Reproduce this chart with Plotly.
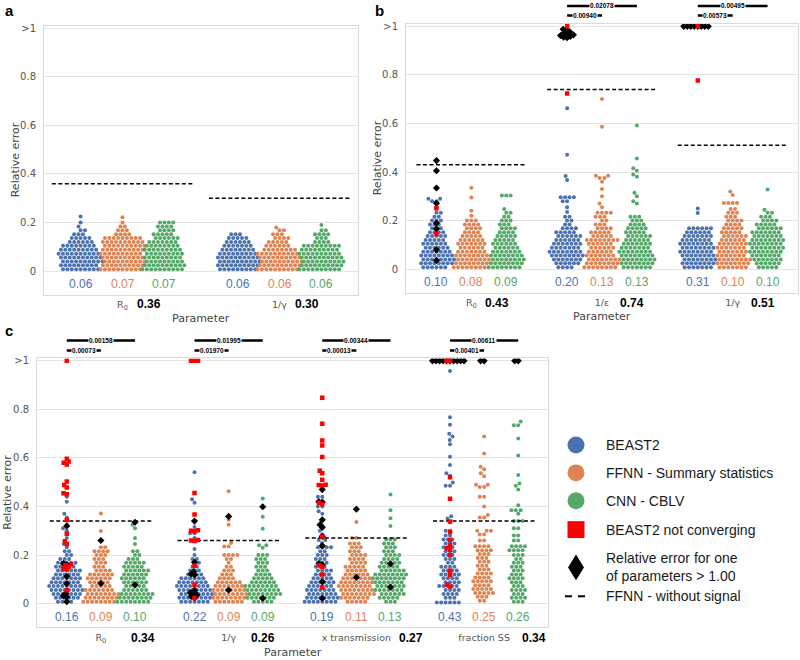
import math

import plotly.graph_objects as go

BLUE, ORANGE, GREEN, RED = "#4C72B0", "#DD8452", "#55A868", "#FF0000"
HUES = [BLUE, ORANGE, GREEN]
HUE_OFF = [-0.267, 0.0, 0.267]
Y_RANGE = [-0.097, 1.01]
W, H = 800, 660

# ---------------- data: (value, number of dots in that row) ----------------
# panel a
a_params = ["R<sub>0</sub>", "1/γ"]
a_nosignal = [0.36, 0.30]
a_median = [[0.06, 0.06], [0.07, 0.06], [0.07, 0.06]]
a_beast_r0 = [(0.008, 9), (0.024, 9), (0.04, 10), (0.056, 10), (0.072, 10), (0.088, 9), (0.104, 8),
              (0.12, 6), (0.136, 5), (0.152, 3), (0.168, 2), (0.184, 1), (0.2, 1), (0.225, 1)]
a_ffnn_r0 = [(0.008, 10), (0.024, 10), (0.04, 10), (0.056, 10), (0.072, 10), (0.088, 10), (0.104, 10),
             (0.12, 10), (0.136, 9), (0.152, 4), (0.168, 3), (0.184, 2), (0.2, 1), (0.222, 1)]
a_cnn_r0 = [(0.008, 10), (0.024, 10), (0.04, 9), (0.056, 9), (0.072, 9), (0.088, 9), (0.104, 8),
            (0.12, 7), (0.136, 6), (0.152, 5), (0.168, 4), (0.184, 4), (0.2, 4)]
a_beast_g = [(0.008, 9), (0.024, 10), (0.04, 10), (0.056, 10), (0.072, 9), (0.088, 8), (0.104, 7),
             (0.12, 6), (0.136, 5), (0.152, 3)]
a_ffnn_g = [(0.008, 10), (0.024, 10), (0.04, 10), (0.056, 10), (0.072, 10), (0.088, 8), (0.104, 6),
            (0.12, 5), (0.136, 4), (0.152, 3), (0.168, 2), (0.18, 1)]
a_cnn_g = [(0.008, 10), (0.024, 10), (0.04, 10), (0.056, 10), (0.072, 10), (0.088, 9), (0.104, 9),
           (0.12, 4), (0.136, 3), (0.152, 4), (0.168, 2), (0.19, 1)]

# panel b
b_params = ["R<sub>0</sub>", "1/ε", "1/γ"]
b_nosignal = [0.43, 0.74, 0.51]
b_median = [[0.10, 0.20, 0.31], [0.08, 0.13, 0.10], [0.09, 0.13, 0.10]]
b_sig_long = ["", "0.02078", "0.00495"]
b_sig_short = ["", "0.00940", "0.00573"]
b_beast_r0 = [(0.008, 6), (0.024, 8), (0.04, 8), (0.056, 8), (0.072, 7), (0.088, 6), (0.104, 6),
              (0.12, 5), (0.136, 5), (0.152, 4), (0.168, 3), (0.184, 3), (0.2, 3), (0.216, 2),
              (0.232, 2), (0.25, 1), (0.28, 2), (0.29, 2)]
b_ffnn_r0 = [(0.008, 8), (0.024, 8), (0.04, 8), (0.056, 8), (0.072, 7), (0.088, 6), (0.104, 7),
             (0.12, 6), (0.136, 5), (0.152, 4), (0.168, 4), (0.184, 4), (0.2, 3), (0.22, 1),
             (0.24, 1), (0.295, 1), (0.335, 1)]
b_cnn_r0 = [(0.008, 8), (0.024, 8), (0.04, 8), (0.056, 8), (0.072, 7), (0.088, 6), (0.104, 6),
            (0.12, 5), (0.136, 5), (0.152, 4), (0.168, 4), (0.184, 3), (0.2, 3), (0.216, 2),
            (0.232, 2), (0.248, 1), (0.303, 3)]
b_beast_e = [(0.008, 4), (0.024, 6), (0.04, 7), (0.056, 8), (0.072, 8), (0.088, 7), (0.104, 7),
             (0.12, 6), (0.136, 6), (0.152, 5), (0.168, 4), (0.184, 2), (0.2, 2), (0.216, 2),
             (0.235, 1), (0.255, 1), (0.28, 2), (0.296, 4), (0.367, 1), (0.384, 1), (0.471, 1),
             (0.663, 1)]
b_ffnn_e = [(0.008, 8), (0.024, 8), (0.04, 8), (0.056, 7), (0.072, 6), (0.088, 6), (0.104, 6),
            (0.12, 8), (0.136, 5), (0.152, 5), (0.168, 4), (0.184, 3), (0.2, 2), (0.216, 3),
            (0.232, 4), (0.255, 1), (0.27, 1), (0.3, 1), (0.33, 1), (0.36, 1), (0.375, 2),
            (0.385, 2), (0.586, 1), (0.701, 1)]
b_cnn_e = [(0.008, 7), (0.024, 8), (0.04, 8), (0.056, 8), (0.072, 8), (0.088, 7), (0.104, 7),
           (0.12, 6), (0.136, 6), (0.152, 5), (0.168, 5), (0.184, 4), (0.2, 3), (0.216, 3),
           (0.27, 1), (0.28, 1), (0.3, 1), (0.315, 1), (0.38, 1), (0.39, 1), (0.405, 1),
           (0.415, 1), (0.456, 1), (0.592, 1)]
b_beast_g = [(0.008, 7), (0.024, 8), (0.04, 8), (0.056, 8), (0.072, 8), (0.088, 8), (0.104, 8),
             (0.12, 7), (0.136, 7), (0.152, 6), (0.168, 6), (0.231, 1), (0.25, 1)]
b_ffnn_g = [(0.008, 7), (0.024, 8), (0.04, 8), (0.056, 7), (0.072, 7), (0.088, 7), (0.104, 7),
            (0.12, 6), (0.136, 6), (0.152, 5), (0.168, 5), (0.184, 4), (0.2, 4), (0.216, 3),
            (0.232, 3), (0.248, 2), (0.272, 4), (0.305, 1), (0.32, 1)]
b_cnn_g = [(0.008, 5), (0.024, 6), (0.04, 7), (0.056, 7), (0.072, 8), (0.088, 8), (0.104, 8),
           (0.12, 8), (0.136, 7), (0.152, 7), (0.168, 6), (0.184, 5), (0.2, 4), (0.216, 3),
           (0.232, 2), (0.245, 1), (0.328, 1)]
b_red = [[0.251, 0.145], [1.0, 0.723], [1.0, 0.777]]
b_black_beast = [[0.447, 0.405, 0.334, 0.271, 0.19, 0.166, 0.079, 0.036],
                 [0.988, 0.985, 0.978, 0.972, 0.968, 0.965, 0.962, 0.958, 0.955, 0.953],
                 [1.0, 1.0, 1.0, 1.0, 1.0, 1.0, 1.0, 1.0]]

# panel c
c_params = ["R<sub>0</sub>", "1/γ", "x transmission", "fraction SS"]
c_nosignal = [0.34, 0.26, 0.27, 0.34]
c_median = [[0.16, 0.22, 0.19, 0.43], [0.09, 0.09, 0.11, 0.25], [0.10, 0.09, 0.13, 0.26]]
c_sig_long = ["0.00158", "0.01995", "0.00344", "0.00611"]
c_sig_short = ["0.00073", "0.01970", "0.00013", "0.00401"]
c_beast_r0 = [(0.008, 4), (0.024, 6), (0.04, 7), (0.056, 8), (0.072, 8), (0.088, 7), (0.104, 7),
              (0.12, 6), (0.136, 6), (0.152, 5), (0.168, 5), (0.184, 3), (0.2, 2), (0.216, 2),
              (0.232, 1), (0.245, 1), (0.27, 1), (0.3, 1), (0.31, 1), (0.355, 1), (0.37, 1),
              (0.42, 1), (0.44, 1)]
c_ffnn_r0 = [(0.008, 8), (0.024, 8), (0.04, 8), (0.056, 7), (0.072, 5), (0.088, 5), (0.104, 6),
             (0.12, 6), (0.136, 4), (0.152, 3), (0.168, 3), (0.184, 3), (0.2, 3), (0.216, 4),
             (0.232, 2), (0.299, 1), (0.371, 1)]
c_cnn_r0 = [(0.008, 8), (0.024, 8), (0.04, 8), (0.056, 6), (0.072, 5), (0.088, 6), (0.104, 6),
            (0.12, 6), (0.136, 6), (0.152, 5), (0.168, 5), (0.184, 3), (0.2, 2), (0.216, 2),
            (0.245, 1), (0.27, 1), (0.31, 1), (0.325, 1)]
c_beast_g = [(0.008, 7), (0.024, 8), (0.04, 8), (0.056, 8), (0.072, 8), (0.088, 7), (0.104, 6),
             (0.12, 4), (0.136, 3), (0.152, 2), (0.168, 2), (0.184, 2), (0.2, 1), (0.225, 1),
             (0.27, 1), (0.29, 2), (0.315, 1), (0.415, 1), (0.43, 1), (0.541, 1)]
c_ffnn_g = [(0.008, 7), (0.024, 8), (0.04, 8), (0.056, 8), (0.072, 7), (0.088, 6), (0.104, 4),
            (0.12, 3), (0.136, 3), (0.152, 2), (0.168, 1), (0.184, 2), (0.2, 4), (0.235, 2),
            (0.25, 1), (0.325, 1), (0.345, 1), (0.463, 1)]
c_cnn_g = [(0.008, 5), (0.024, 7), (0.04, 8), (0.056, 8), (0.072, 8), (0.088, 6), (0.104, 5),
           (0.12, 4), (0.136, 3), (0.152, 3), (0.168, 3), (0.184, 3), (0.2, 3), (0.23, 1),
           (0.24, 2), (0.308, 1), (0.358, 1), (0.433, 1)]
c_beast_x = [(0.008, 8), (0.024, 8), (0.04, 7), (0.056, 7), (0.072, 6), (0.088, 6), (0.104, 5),
             (0.12, 4), (0.136, 4), (0.152, 3), (0.168, 3), (0.184, 3), (0.2, 3), (0.216, 2),
             (0.232, 4), (0.25, 1), (0.262, 2), (0.285, 1), (0.3, 1), (0.32, 1), (0.37, 1),
             (0.38, 1), (0.4, 2), (0.44, 2), (0.465, 1)]
c_ffnn_x = [(0.008, 5), (0.024, 7), (0.04, 8), (0.056, 8), (0.072, 8), (0.088, 8), (0.104, 7),
            (0.12, 6), (0.136, 5), (0.152, 5), (0.168, 4), (0.184, 4), (0.2, 4), (0.216, 3),
            (0.232, 3), (0.248, 3), (0.27, 2), (0.336, 1)]
c_cnn_x = [(0.008, 3), (0.024, 5), (0.04, 6), (0.056, 7), (0.072, 7), (0.088, 7), (0.104, 8),
           (0.12, 8), (0.136, 6), (0.152, 5), (0.168, 5), (0.184, 4), (0.2, 4), (0.216, 3),
           (0.232, 3), (0.248, 3), (0.264, 3), (0.32, 1), (0.352, 1), (0.385, 1), (0.449, 1)]
c_beast_s = [(0.005, 6), (0.024, 3), (0.04, 4), (0.056, 4), (0.072, 5), (0.088, 4), (0.104, 4),
             (0.12, 5), (0.136, 4), (0.152, 4), (0.168, 2), (0.184, 3), (0.2, 3), (0.216, 3),
             (0.232, 3), (0.248, 3), (0.264, 3), (0.28, 2), (0.3, 2), (0.335, 1), (0.35, 1),
             (0.36, 1), (0.43, 1), (0.485, 2), (0.499, 1), (0.527, 1), (0.537, 1), (0.571, 1),
             (0.605, 1), (0.656, 1), (0.674, 1), (0.688, 1), (0.7, 1), (0.737, 1), (0.768, 1),
             (0.958, 1)]
c_ffnn_s = [(0.012, 2), (0.028, 3), (0.044, 5), (0.06, 5), (0.076, 4), (0.092, 5), (0.108, 4),
            (0.124, 4), (0.14, 3), (0.156, 3), (0.172, 3), (0.188, 3), (0.204, 3), (0.22, 4),
            (0.236, 4), (0.26, 2), (0.285, 2), (0.3, 3), (0.355, 2), (0.365, 1), (0.4, 1),
            (0.44, 2), (0.48, 2), (0.49, 2), (0.525, 1), (0.537, 1), (0.553, 1), (0.564, 1),
            (0.618, 1), (0.688, 1)]
c_cnn_s = [(0.008, 3), (0.024, 4), (0.04, 3), (0.056, 4), (0.072, 3), (0.088, 3), (0.104, 4),
           (0.12, 3), (0.136, 3), (0.152, 3), (0.168, 3), (0.184, 2), (0.2, 3), (0.22, 4),
           (0.236, 4), (0.26, 2), (0.28, 2), (0.31, 2), (0.34, 3), (0.37, 1), (0.385, 3),
           (0.405, 1), (0.47, 1), (0.485, 1), (0.495, 1), (0.53, 1), (0.61, 1), (0.68, 1),
           (0.735, 2), (0.75, 1)]
c_red = [[1.0, 0.597, 0.585, 0.58, 0.573, 0.503, 0.488, 0.478, 0.455, 0.45, 0.344, 0.288, 0.257,
          0.245, 0.162, 0.158, 0.152, 0.145, 0.14, 0.055],
         [1.0, 1.0, 1.0, 0.456, 0.367, 0.302, 0.3, 0.298, 0.262, 0.26, 0.258, 0.156, 0.078,
          0.023],
         [0.848, 0.741, 0.672, 0.651, 0.604, 0.547, 0.537, 0.51, 0.49, 0.488, 0.486, 0.415, 0.41,
          0.276, 0.158, 0.152, 0.12, 0.066],
         [1.0, 1.0, 0.52, 0.432, 0.338, 0.295, 0.262, 0.24, 0.228, 0.222, 0.2, 0.135, 0.118, 0.078,
          0.07]]
c_black_beast = [[0.32, 0.165, 0.16, 0.112, 0.082, 0.042, 0.032, 0.028, 0.008],
                 [0.34, 0.17, 0.132, 0.122, 0.118, 0.055, 0.045, 0.04, 0.035, 0.03, 0.025],
                 [0.47, 0.42, 0.418, 0.345, 0.325, 0.314, 0.277, 0.238, 0.165, 0.16, 0.09, 0.022],
                 [1.0, 1.0, 1.0, 1.0, 1.0, 1.0, 1.0, 1.0, 1.0, 1.0]]
c_black_ffnn = [[0.26, 0.083], [0.359, 0.056], [0.389, 0.108], [1.0, 1.0]]
c_black_cnn = [[0.335, 0.077], [0.399, 0.022], [0.164, 0.068], [1.0, 1.0]]

# overall errors of the no-signal FFNN shown under each parameter
a_nosignal_txt = ["0.36", "0.30"]
b_nosignal_txt = ["0.43", "0.74", "0.51"]
c_nosignal_txt = ["0.34", "0.26", "0.27", "0.34"]

LEGEND_LABELS = ["BEAST2", "FFNN - Summary statistics", "CNN - CBLV", "BEAST2 not converging",
                 "Relative error for one<br>of parameters > 1.00", "FFNN - without signal"]

PANELS = [
    dict(letter="a", letter_pos=(3, 8), frame=(44, 23, 358, 293), params=a_params,
         swarms=[[a_beast_r0, a_beast_g], [a_ffnn_r0, a_ffnn_g], [a_cnn_r0, a_cnn_g]],
         red=[[], []], black=[[[], []], [[], []], [[], []]],
         median=a_median, nosignal=a_nosignal, nosignal_txt=a_nosignal_txt, half=0.45,
         num_shift=[26, 27], label_y=302, title_y=317, sig=None),
    dict(letter="b", letter_pos=(373, 8), frame=(406, 21, 798, 291), params=b_params,
         swarms=[[b_beast_r0, b_beast_e, b_beast_g], [b_ffnn_r0, b_ffnn_e, b_ffnn_g],
                 [b_cnn_r0, b_cnn_e, b_cnn_g]],
         red=b_red, black=[b_black_beast, [[], [], []], [[], [], []]],
         median=b_median, nosignal=b_nosignal, nosignal_txt=b_nosignal_txt, half=0.42,
         num_shift=[26, 30, 30], label_y=301, title_y=315,
         sig=(b_sig_long, b_sig_short, 3, 12.5)),
    dict(letter="c", letter_pos=(3, 329), frame=(37, 357, 548, 627), params=c_params,
         swarms=[[c_beast_r0, c_beast_g, c_beast_x, c_beast_s],
                 [c_ffnn_r0, c_ffnn_g, c_ffnn_x, c_ffnn_s],
                 [c_cnn_r0, c_cnn_g, c_cnn_x, c_cnn_s]],
         red=c_red, black=[c_black_beast, c_black_ffnn, c_black_cnn],
         median=c_median, nosignal=c_nosignal, nosignal_txt=c_nosignal_txt, half=0.40,
         num_shift=[42, 34, 55, 50], label_y=638, title_y=652,
         sig=(c_sig_long, c_sig_short, 339, 349)),
]

DOT_D = 4.4
MARK_D = 3.5
TXT = "Liberation Sans, Arial, sans-serif"
AX = "DejaVu Sans, sans-serif"


def expand(pairs):
    out = []
    for v, n in pairs:
        out += [v] * n
    return out


def beeswarm(ys, d):
    """x offsets (px) for points at pixel heights ys, closest to centre without overlap"""
    order = sorted(range(len(ys)), key=lambda i: ys[i])
    placed = []
    out = [0.0] * len(ys)
    for i in order:
        y = ys[i]
        near = [(px, py) for px, py in placed if abs(py - y) < d]
        cands = [0.0]
        for px, py in near:
            dx = math.sqrt(d * d - (py - y) ** 2)
            cands += [px - dx, px + dx]
        cands.sort(key=abs)
        for c in cands:
            if all((c - px) ** 2 + (y - py) ** 2 >= d * d - 1e-6 for px, py in near):
                break
        placed.append((c, y))
        out[i] = c
    return out


def fx(v):
    return v / W


def fy(v):
    return 1 - v / H


def note(**kw):
    kw.setdefault("showarrow", False)
    kw.setdefault("xanchor", "center")
    kw.setdefault("yanchor", "middle")
    return kw


fig = go.Figure()
annotations, shapes = [], []
layout_axes = {}

for k, p in enumerate(PANELS, start=1):
    sfx = "" if k == 1 else str(k)
    xref, yref = "x" + sfx, "y" + sfx
    x0, y0, x1, y1 = p["frame"]
    n = len(p["params"])
    xs = (x1 - x0) / n
    ys = (y1 - y0) / (Y_RANGE[1] - Y_RANGE[0])

    def place(vals, center, d):
        offs = beeswarm([v * ys for v in vals], d)
        return [center + o / xs for o in offs], list(vals)

    # coloured swarms
    for h, color in enumerate(HUES):
        gx, gy = [], []
        for i in range(n):
            px_, py_ = place(expand(p["swarms"][h][i]), i + HUE_OFF[h], DOT_D)
            gx += px_
            gy += py_
        fig.add_trace(go.Scatter(x=gx, y=gy, mode="markers", xaxis=xref, yaxis=yref,
                                 marker=dict(size=4.0, color=color, line=dict(width=0)),
                                 hoverinfo="skip"))

    # no-signal dashed lines
    lx, ly = [], []
    for i, v in enumerate(p["nosignal"]):
        lx += [i - p["half"], i + p["half"], None]
        ly += [v, v, None]
    fig.add_trace(go.Scatter(x=lx, y=ly, mode="lines", xaxis=xref, yaxis=yref,
                             line=dict(color="black", width=1.5, dash="4px,2.5px"),
                             hoverinfo="skip"))

    # overlays: one-parameter > 1 (black) and not converging (red)
    bx, by = [], []
    for h in range(3):
        for i in range(n):
            if p["black"][h][i]:
                px_, py_ = place(p["black"][h][i], i + HUE_OFF[h], MARK_D)
                bx += px_
                by += py_
    if bx:
        fig.add_trace(go.Scatter(x=bx, y=by, mode="markers", xaxis=xref, yaxis=yref,
                                 marker=dict(size=5.5, symbol="diamond", color="black",
                                             line=dict(width=0)), hoverinfo="skip"))
    rx, ry = [], []
    for i in range(n):
        if p["red"][i]:
            px_, py_ = place(p["red"][i], i + HUE_OFF[0], MARK_D)
            rx += px_
            ry += py_
    if rx:
        fig.add_trace(go.Scatter(x=rx, y=ry, mode="markers", xaxis=xref, yaxis=yref,
                                 marker=dict(size=4.5, symbol="square", color=RED,
                                             line=dict(width=0)), hoverinfo="skip"))

    layout_axes["xaxis" + sfx] = dict(
        domain=[fx(x0), fx(x1)], range=[-0.5, n - 0.5], anchor=yref,
        tickvals=list(range(n)), ticktext=p["params"], ticks="", showgrid=False,
        zeroline=False, showline=True, mirror=True, linecolor="#DADADA", linewidth=1,
        tickfont=dict(family=AX, size=9.5, color="#555555"), ticklabelstandoff=1)
    layout_axes["yaxis" + sfx] = dict(
        domain=[fy(y1), fy(y0)], range=Y_RANGE, anchor=xref,
        tickvals=[0, 0.2, 0.4, 0.6, 0.8, 1.0], ticktext=["0", "0.2", "0.4", "0.6", "0.8", ">1"],
        ticks="", showgrid=True, gridcolor="#E4E4E4", gridwidth=1, zeroline=False,
        showline=True, mirror=True, linecolor="#DADADA", linewidth=1,
        tickfont=dict(family=AX, size=10, color="#555555"), ticklabelstandoff=5)

    # medians under each swarm
    for h, color in enumerate(HUES):
        for i, m in enumerate(p["median"][h]):
            annotations.append(note(x=i + HUE_OFF[h], y=-0.055, xref=xref, yref=yref,
                                    text=f"{m:.2f}",
                                    font=dict(family=TXT, size=12, color=color)))
    # bold no-signal error next to parameter names
    for i, t in enumerate(p["nosignal_txt"]):
        annotations.append(note(x=i, xshift=p["num_shift"][i], y=fy(p["label_y"]),
                                xref=xref, yref="paper", text=f"<b>{t}</b>",
                                font=dict(family=TXT, size=12, color="black")))
    annotations.append(note(x=fx((x0 + x1) / 2), y=fy(p["title_y"]), xref="paper", yref="paper",
                            text="Parameter", font=dict(family=AX, size=11, color="#444444")))
    annotations.append(note(x=fx(x0 - 29), y=fy((y0 + y1) / 2), xref="paper", yref="paper",
                            text="Relative error", textangle=-90,
                            font=dict(family=AX, size=11, color="#444444")))
    lx_, ly_ = p["letter_pos"]
    annotations.append(note(x=fx(lx_), y=fy(ly_), xref="paper", yref="paper",
                            xanchor="left", text=f"<b>{p['letter']}</b>",
                            font=dict(family=TXT, size=15, color="black")))

    # significance bars above the panel
    if p["sig"]:
        longs, shorts, yl, ys_ = p["sig"]
        for i in range(n):
            for txt, right, ypx in ((longs[i], HUE_OFF[2], yl), (shorts[i], HUE_OFF[1], ys_)):
                if not txt:
                    continue
                a, b = i + HUE_OFF[0], i + right
                shapes.append(dict(type="line", xref=xref, yref="paper", x0=a, x1=b,
                                   y0=fy(ypx), y1=fy(ypx),
                                   line=dict(color="black", width=2.5)))
                annotations.append(note(x=(a + b) / 2, y=fy(ypx), xref=xref, yref="paper",
                                        text=f"<b>{txt}</b>", bgcolor="white", borderpad=0,
                                        font=dict(family=TXT, size=6.5, color="black")))

# ---------------- legend ----------------
LX, TX = 576, 604
legend_y = [444, 472, 500, 529, 567, 596]
for cy, color in zip(legend_y[:3], HUES):
    shapes.append(dict(type="circle", xref="paper", yref="paper", fillcolor=color,
                       line=dict(width=0), x0=fx(LX - 8.5), x1=fx(LX + 8.5),
                       y0=fy(cy + 8.5), y1=fy(cy - 8.5)))
cy = legend_y[3]
shapes.append(dict(type="rect", xref="paper", yref="paper", fillcolor=RED, line=dict(width=0),
                   x0=fx(LX - 8.5), x1=fx(LX + 8.5), y0=fy(cy + 8.5), y1=fy(cy - 8.5)))
cy = legend_y[4]
shapes.append(dict(type="path", xref="paper", yref="paper", fillcolor="black", line=dict(width=0),
                   path=(f"M {fx(LX)} {fy(cy - 13)} L {fx(LX + 8)} {fy(cy)} "
                         f"L {fx(LX)} {fy(cy + 13)} L {fx(LX - 8)} {fy(cy)} Z")))
cy = legend_y[5]
for a, b in ((565, 572), (578, 585)):
    shapes.append(dict(type="line", xref="paper", yref="paper", x0=fx(a), x1=fx(b),
                       y0=fy(cy), y1=fy(cy), line=dict(color="black", width=2)))
for cy, label in zip(legend_y, LEGEND_LABELS):
    annotations.append(note(x=fx(TX), y=fy(cy), xref="paper", yref="paper", xanchor="left",
                            align="left", text=label,
                            font=dict(family=TXT, size=14, color="#1A1A1A")))

fig.update_layout(
    width=W, height=H, autosize=False, margin=dict(l=0, r=0, t=0, b=0),
    paper_bgcolor="white", plot_bgcolor="white", showlegend=False,
    font=dict(family=AX), annotations=annotations, shapes=shapes, **layout_axes)

# the page's default 8px body margin would shift the figure; drop it
fig.write_html("out.html", config={"displayModeBar": False},
               post_script="document.body.style.margin='0';"
                           "document.body.style.overflow='hidden';")
